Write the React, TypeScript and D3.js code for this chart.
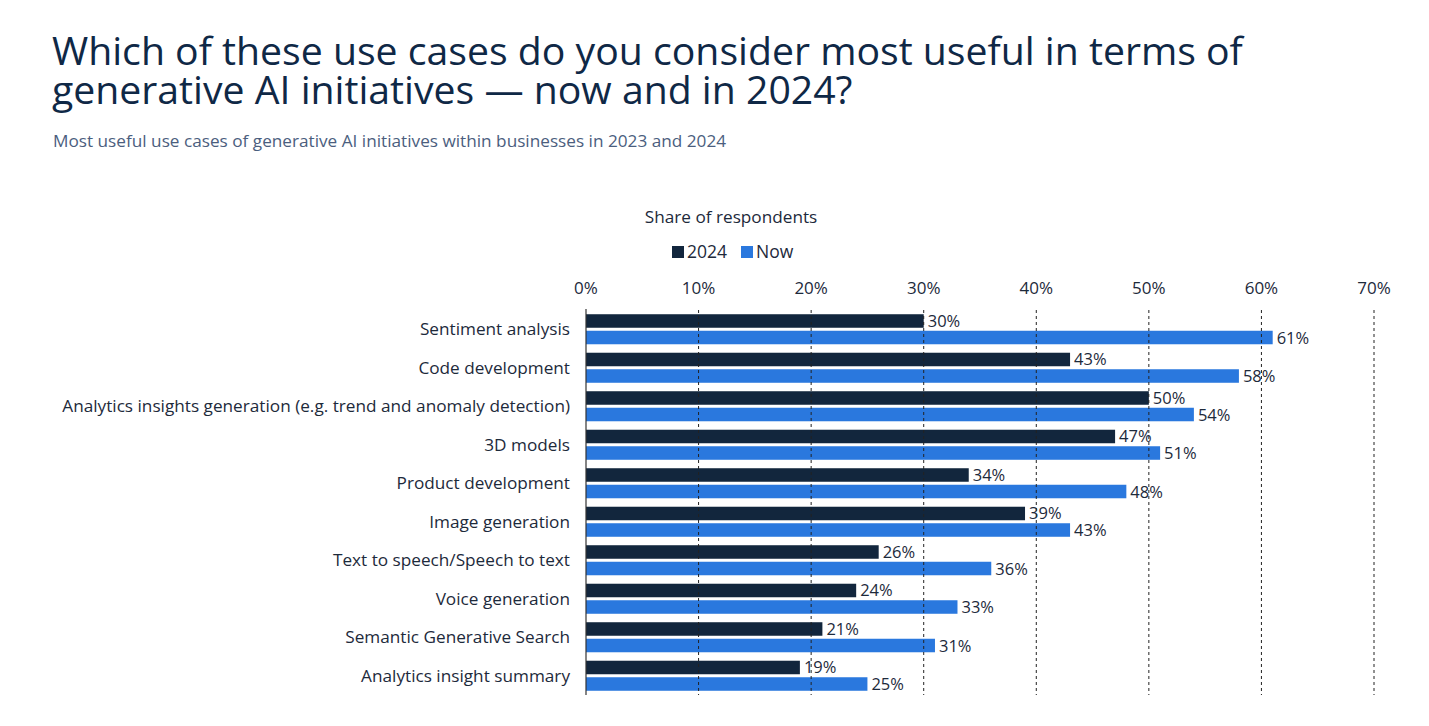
import React from "react";
import * as d3 from "d3";

const categories = [
  "Sentiment analysis",
  "Code development",
  "Analytics insights generation (e.g. trend and anomaly detection)",
  "3D models",
  "Product development",
  "Image generation",
  "Text to speech/Speech to text",
  "Voice generation",
  "Semantic Generative Search",
  "Analytics insight summary",
];
const values2024 = [30, 43, 50, 47, 34, 39, 26, 24, 21, 19];
const valuesNow = [61, 58, 54, 51, 48, 43, 36, 33, 31, 25];
const ticks = [0, 10, 20, 30, 40, 50, 60, 70];
const seriesNames = ["2024", "Now"];
const colors = ["#12263d", "#2a78de"];

const W = 1429;
const H = 726;
const FONT = "'Open Sans', 'Noto Sans', sans-serif";
const TEXT = "#1d2a3b";

export default function App() {
  const x = d3.scaleLinear().domain([0, 70]).range([586, 1374]);
  const y = d3.scaleBand<string>().domain(categories).range([310, 695]).paddingInner(0.22).paddingOuter(0.11);
  const bh = y.bandwidth();
  const barH = (bh - 3) / 2;
  const series = [values2024, valuesNow];

  return (
    <svg width={W} height={H} style={{ position: "absolute", left: 0, top: 0, background: "#fff" }} fontFamily={FONT}>
      <text x={52} y={65} fontSize={39.2} fill="#0f2846">Which of these use cases do you consider most useful in terms of</text>
      <text x={52} y={104} fontSize={39.2} fill="#0f2846">generative AI initiatives — now and in 2024?</text>
      <text x={53} y={147} fontSize={17.2} fill="#4b5e7e">Most useful use cases of generative AI initiatives within businesses in 2023 and 2024</text>

      <text x={731} y={223} fontSize={17.2} fill={TEXT} textAnchor="middle">Share of respondents</text>
      <g>
        <rect x={672} y={246} width={12} height={12} fill={colors[0]} />
        <text x={687} y={258} fontSize={17.5} fill={TEXT}>{seriesNames[0]}</text>
        <rect x={741} y={246} width={12} height={12} fill={colors[1]} />
        <text x={756} y={258} fontSize={17.5} fill={TEXT}>{seriesNames[1]}</text>
      </g>

      {ticks.map((t) => (
        <text key={"tl" + t} x={x(t)} y={294} fontSize={17} fill={TEXT} textAnchor="middle">{t}%</text>
      ))}

      {categories.map((c, i) => (
        <g key={c}>
          {series.map((s, j) => (
            <rect key={j} x={x(0)} y={(y(c) as number) + j * (barH + 3)} width={x(s[i]) - x(0)} height={barH} fill={colors[j]} />
          ))}
        </g>
      ))}

      {ticks.slice(1).map((t) => (
        <line key={"g" + t} x1={x(t)} x2={x(t)} y1={310} y2={695} stroke="#222" strokeWidth={1} strokeDasharray="3,3" />
      ))}
      <line x1={x(0)} x2={x(0)} y1={309} y2={695} stroke="#333" strokeWidth={1.2} />

      {categories.map((c, i) => (
        <g key={"l" + c}>
          <text x={570} y={(y(c) as number) + bh / 2 + 6} fontSize={17.2} fill={TEXT} textAnchor="end">{c}</text>
          {series.map((s, j) => (
            <text key={j} x={x(s[i]) + 4} y={(y(c) as number) + j * (barH + 3) + barH / 2 + 6} fontSize={16.5} fill={TEXT}>{s[i]}%</text>
          ))}
        </g>
      ))}
    </svg>
  );
}
